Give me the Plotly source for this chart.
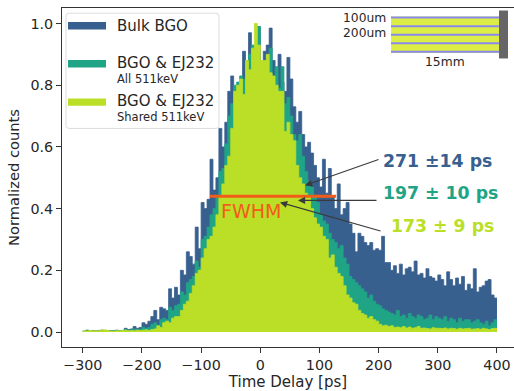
import numpy as np
import plotly.graph_objects as go

W, H = 514, 391
L, R, T, B = 62.0, 514.0, 7.5, 346.7

BIN_WIDTH = 5
bulk_bgo = [
 .002,.006,.004,.005,.003,.005,.006,.004,.003,.004,
 .005,.006,.004,.005,.012,.008,.010,.018,.012,.015,
 .030,.025,.035,.050,.070,.040,.080,.075,.070,.140,
 .110,.145,.120,.200,.185,.260,.245,.220,.340,.270,
 .420,.400,.430,.560,.460,.500,.660,.600,.680,.780,
 .830,.730,.790,.810,.910,.780,.970,.850,.900,.990,
 .870,.910,.930,.985,.880,.840,.900,.810,.780,.890,
 .820,.730,.680,.715,.640,.600,.615,.580,.540,.500,
 .470,.560,.450,.530,.440,.400,.480,.380,.400,.420,
 .350,.320,.260,.320,.310,.290,.280,.290,.265,.270,
 .265,.310,.225,.225,.200,.215,.190,.220,.185,.205,
 .210,.195,.230,.185,.190,.175,.205,.180,.175,.165,
 .185,.170,.150,.195,.170,.150,.175,.155,.180,.135,
 .155,.140,.205,.130,.145,.150,.165,.170,.120,.110,
]
bgo_ej232_all = [
 .003,.005,.004,.004,.003,.004,.005,.004,.003,.004,
 .004,.005,.004,.005,.008,.006,.007,.010,.008,.009,
 .015,.012,.015,.025,.030,.020,.040,.045,.040,.080,
 .070,.085,.090,.130,.120,.160,.170,.180,.230,.210,
 .300,.310,.340,.380,.400,.440,.520,.530,.610,.700,
 .740,.800,.810,.830,.820,.880,.900,.930,.920,.990,
 .820,.850,.860,.920,.800,.860,.790,.860,.740,.760,
 .700,.640,.620,.640,.570,.520,.490,.470,.440,.420,
 .380,.360,.350,.320,.300,.290,.270,.280,.240,.220,
 .180,.170,.160,.150,.140,.130,.110,.120,.100,.090,
 .085,.075,.070,.065,.060,.055,.070,.050,.055,.045,
 .060,.050,.045,.055,.050,.040,.045,.055,.040,.050,
 .045,.040,.050,.035,.045,.040,.030,.045,.035,.040,
 .040,.030,.035,.040,.030,.025,.035,.020,.030,.040,
]
bgo_ej232_shared = [
 .004,.003,.005,.004,.003,.004,.006,.007,.004,.003,
 .003,.004,.004,.005,.006,.004,.005,.004,.006,.005,
 .006,.007,.005,.008,.010,.020,.015,.030,.035,.030,
 .045,.050,.050,.070,.090,.100,.125,.150,.190,.200,
 .240,.270,.300,.310,.340,.380,.440,.480,.540,.570,
 .660,.780,.800,.820,.770,.880,.850,.920,1.00,.930,
 .880,.880,.900,.840,.830,.800,.780,.780,.650,.680,
 .640,.620,.540,.500,.480,.450,.440,.400,.370,.350,
 .340,.310,.300,.240,.250,.210,.190,.180,.150,.120,
 .110,.095,.090,.070,.060,.055,.045,.050,.040,.035,
 .025,.020,.022,.018,.020,.015,.016,.014,.018,.013,
 .016,.012,.014,.018,.012,.013,.011,.010,.014,.012,
 .012,.011,.013,.010,.012,.011,.009,.012,.010,.011,
 .012,.009,.010,.011,.009,.012,.010,.008,.011,.012,
]
bin_edges = np.arange(-300, 400 + BIN_WIDTH, BIN_WIDTH)

x_ticks = [-300, -200, -100, 0, 100, 200, 300, 400]
y_ticks = [0.0, 0.2, 0.4, 0.6, 0.8, 1.0]
series_names = ["Bulk BGO", "BGO & EJ232", "BGO & EJ232"]
series_sub = ["", "All 511keV", "Shared 511keV"]
series_colors = ["#38608f", "#20a486", "#bbdf27"]
fwhm_level = [0.44, 0.44]
fwhm_span = [-85, 128]
fwhm_labels = ["271 ±14 ps", "197 ± 10 ps", "173 ± 9 ps"]

FONT = "DejaVu Sans"
INK = "#262626"
ORANGE = "#f25c19"


def px(x):
    return (x - L) / (R - L)


def py(y):
    return (B - y) / (B - T)


fig = go.Figure()
for vals, col, nm in zip([bulk_bgo, bgo_ej232_all, bgo_ej232_shared], series_colors, series_names):
    fig.add_trace(go.Scatter(
        x=bin_edges, y=vals + [vals[-1]], mode="lines", name=nm,
        line=dict(color=col, width=0.8, shape="hv"),
        fill="tozeroy", fillcolor=col, showlegend=False, hoverinfo="skip"))

fig.add_trace(go.Scatter(x=fwhm_span, y=fwhm_level, mode="lines",
                         line=dict(color=ORANGE, width=3), showlegend=False,
                         hoverinfo="skip"))

shapes = []
# legend frame (rounded) and handles
x0, x1, y0, y1, r = px(66), px(219), py(128), py(12.7), 3
rx, ry = r / (R - L), r / (B - T)
shapes.append(dict(
    type="path", xref="paper", yref="paper", layer="above",
    path=(f"M {x0+rx} {y0} L {x1-rx} {y0} Q {x1} {y0} {x1} {y0+ry} L {x1} {y1-ry} "
          f"Q {x1} {y1} {x1-rx} {y1} L {x0+rx} {y1} Q {x0} {y1} {x0} {y1-ry} "
          f"L {x0} {y0+ry} Q {x0} {y0} {x0+rx} {y0} Z"),
    fillcolor="rgba(255,255,255,0.85)", line=dict(color="#dddddd", width=1)))
for yy, col in zip([25.3, 63.3, 101.7], series_colors):
    shapes.append(dict(type="rect", xref="paper", yref="paper", x0=px(68), x1=px(106),
                       y0=py(yy + 3.7), y1=py(yy - 3.7), fillcolor=col, line_width=0,
                       layer="above"))
# inset: stacked scintillator sketch
shapes.append(dict(type="rect", xref="paper", yref="paper", x0=px(391), x1=px(499),
                   y0=py(52.5), y1=py(16), fillcolor="#dcee46", line_width=0, layer="above"))
for yy in [17, 25.7, 34.3, 42.7, 51.2]:
    shapes.append(dict(type="rect", xref="paper", yref="paper", x0=px(391), x1=px(499),
                       y0=py(yy + 1), y1=py(yy - 1), fillcolor="#8888ee", line_width=0,
                       layer="above"))
shapes.append(dict(type="rect", xref="paper", yref="paper", x0=px(499), x1=px(508),
                   y0=py(58), y1=py(10), fillcolor="#666666", line_width=0, layer="above"))

annotations = []


def text(s, x, y, size, color=INK, anchor="left", bold=False):
    annotations.append(dict(
        text=f"<b>{s}</b>" if bold else s, xref="paper", yref="paper", x=px(x), y=py(y),
        xanchor=anchor, yanchor="middle", showarrow=False,
        font=dict(family=FONT, size=size, color=color)))


def arrow(x0, y0, x1, y1):
    annotations.append(dict(
        text="", xref="paper", yref="paper", x=px(x1), y=py(y1),
        ax=x0 - x1, ay=y0 - y1, axref="pixel", ayref="pixel", showarrow=True,
        arrowhead=2, arrowsize=1.3, arrowwidth=1.1, arrowcolor="#3a3a3a"))


text(series_names[0], 115, 25.5, 15)
text(series_names[1], 115, 63, 15)
text(series_sub[1], 115, 79, 11.5)
text(series_names[2], 115, 101, 15)
text(series_sub[2], 115, 117, 11.5)
arrow(380, 158.5, 305, 185)
arrow(378, 200, 298, 200)
arrow(382, 231, 280, 202)
text(fwhm_labels[0], 381, 161, 17.3, series_colors[0], bold=True)
text(fwhm_labels[1], 381, 193, 17.3, series_colors[1], bold=True)
text(fwhm_labels[2], 389, 226, 17.3, series_colors[2], bold=True)
text("FWHM", 219, 210.5, 19, ORANGE)
text("100um", 388, 18, 12.3, anchor="right")
text("200um", 388, 33, 12.3, anchor="right")
text("15mm", 445, 62, 12.3, anchor="center")

fig.update_layout(
    width=W, height=H, paper_bgcolor="white", plot_bgcolor="white",
    margin=dict(l=L, r=W - R, t=T, b=H - B, pad=0),
    font=dict(family=FONT, size=14, color=INK),
    shapes=shapes, annotations=annotations, showlegend=False,
    xaxis=dict(range=[(L - 260.3) / 0.5917, (R - 260.3) / 0.5917], tickvals=x_ticks,
               showgrid=False, zeroline=False, showline=True, mirror=True, linecolor="#333333",
               linewidth=1, ticks="outside", ticklen=5, tickcolor="#333333",
               tickfont=dict(size=14.3), title=dict(text="Time Delay [ps]", standoff=6,
                                                    font=dict(size=15))),
    yaxis=dict(range=[(331.7 - B) / 308.7, (331.7 - T) / 308.7], tickvals=y_ticks,
               tickformat=".1f", showgrid=False, zeroline=False, showline=True,
               linecolor="#333333", linewidth=1, ticks="outside", ticklen=5,
               tickcolor="#333333", tickfont=dict(size=14.3),
               title=dict(text="Normalized counts", standoff=7, font=dict(size=14.7))),
)

fig.write_html("out.html", config=dict(displayModeBar=False),
               post_script="document.body.style.margin='0';")
